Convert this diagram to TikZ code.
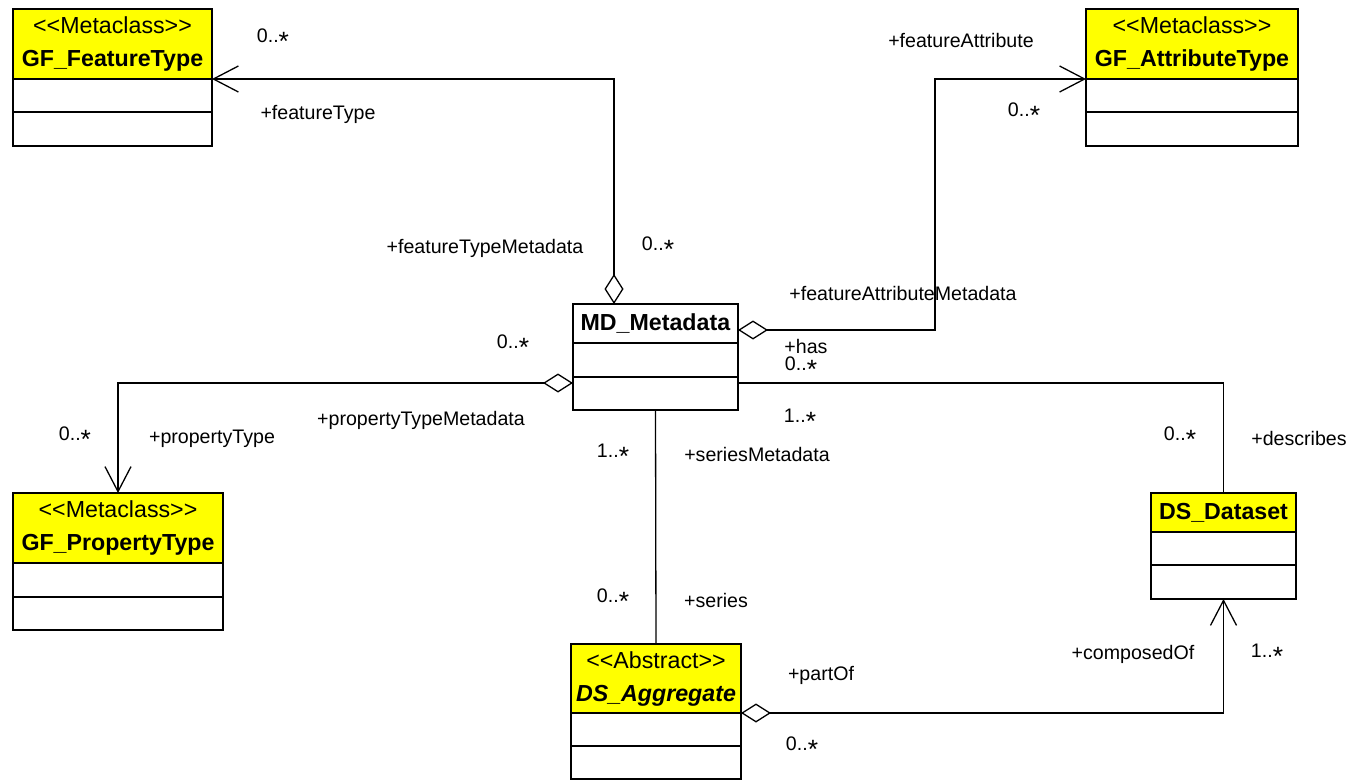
\documentclass[tikz,border=0pt]{standalone}
\usepackage{fontspec}
\usepackage{graphicx}
\setmainfont{Liberation Sans}
\usetikzlibrary{arrows.meta}
\definecolor{umlyellow}{RGB}{255,255,0}
\newcommand\mstar{\raisebox{-0.4em}{\scalebox{1.35}{*}}}
\newcommand\stereo[1]{<\kern0pt<#1>\kern0pt>}
\begin{document}
\begin{tikzpicture}[x=0.5pt,y=-0.5pt,
  hdr/.style={draw, line width=1pt, fill=umlyellow, inner sep=0pt, outer sep=0pt, align=center,
    font=\fontsize{11.6}{16.5}\selectfont},
  comp/.style={draw, line width=1pt, fill=white, inner sep=0pt, outer sep=0pt, anchor=north},
  conn/.style={line width=0.65pt},
  aggto/.style={{Diamond[open,length=15pt,width=9.5pt]}-{Straight Barb[length=12.5pt,width=13pt]}},
  lbl/.style={font=\fontsize{9.8}{11}\selectfont, inner sep=0pt}]
\fill[white] (0,0) rectangle (1350,781);
\useasboundingbox (0,0) rectangle (1350,781);

% GF_FeatureType
\node[hdr, minimum width=99.5pt, minimum height=35pt] (ftH) at (112.5,44)
  {\stereo{Metaclass}\\\textbf{GF\_FeatureType}};
\node[comp, minimum width=99.5pt, minimum height=16.5pt] (ftA) at (ftH.south) {};
\node[comp, minimum width=99.5pt, minimum height=17pt] (ftO) at (ftA.south) {};

% GF_AttributeType
\node[hdr, minimum width=106pt, minimum height=35pt] (atH) at (1192,44)
  {\stereo{Metaclass}\\\textbf{GF\_AttributeType}};
\node[comp, minimum width=106pt, minimum height=16.5pt] (atA) at (atH.south) {};
\node[comp, minimum width=106pt, minimum height=17pt] (atO) at (atA.south) {};

% GF_PropertyType
\node[hdr, minimum width=105pt, minimum height=35pt] (ptH) at (118,528)
  {\stereo{Metaclass}\\\textbf{GF\_PropertyType}};
\node[comp, minimum width=105pt, minimum height=17pt] (ptA) at (ptH.south) {};
\node[comp, minimum width=105pt, minimum height=16.5pt] (ptO) at (ptA.south) {};

% MD_Metadata
\node[hdr, fill=white, minimum width=82.5pt, minimum height=19.5pt] (mdH) at (655.5,323.5)
  {\textbf{MD\_Metadata}};
\node[comp, minimum width=82.5pt, minimum height=17pt] (mdA) at (mdH.south) {};
\node[comp, minimum width=82.5pt, minimum height=16.5pt] (mdO) at (mdA.south) {};

% DS_Dataset
\node[hdr, minimum width=72.5pt, minimum height=19.5pt] (dsH) at (1223.5,512.5)
  {\textbf{DS\_Dataset}};
\node[comp, minimum width=72.5pt, minimum height=16.5pt] (dsA) at (dsH.south) {};
\node[comp, minimum width=72.5pt, minimum height=17pt] (dsO) at (dsA.south) {};

% DS_Aggregate
\node[hdr, minimum width=85pt, minimum height=34.5pt] (agH) at (656,678.5)
  {\stereo{Abstract}\\\textbf{\itshape DS\_Aggregate}};
\node[comp, minimum width=85pt, minimum height=16.5pt] (agA) at (agH.south) {};
\node[comp, minimum width=85pt, minimum height=16.5pt] (agO) at (agA.south) {};

% bend coordinates
\coordinate (c1) at (614,79);
\coordinate (c2) at (935,330);
\coordinate (c3) at (118,383);
\coordinate (c4) at (1223.5,383);

% connectors
\draw[conn, aggto] (mdH.north -| c1) |- (ftH.south east);
\draw[conn, aggto] (c2 -| mdH.east) -- (c2) |- (atH.south west);
\draw[conn, aggto] (c3 -| mdO.west) -| (ptH.north);
\draw[conn] (c4 -| mdO.east) -| (dsH.north);
\draw[conn] (mdO.south) -- (agH.north);
\draw[conn, aggto] (agH.south east) -| (dsO.south);

% labels
\node[lbl] (l1) at (273,40) {0..\mstar};
\node[lbl] (l2) at (318,114) {+featureType};
\node[lbl] (l3) at (485,248) {+featureTypeMetadata};
\node[lbl] (l4) at (658,248) {0..\mstar};
\node[lbl] (l5) at (961,40) {+featureAttribute};
\node[lbl] (l6) at (1024,114) {0..\mstar};
\node[lbl] (l7) at (903,293) {+featureAttributeMetadata};
\node[lbl] (l8) at (806,346) {+has};
\node[lbl] (l9) at (801,368) {0..\mstar};
\node[lbl] (l10) at (513,346) {0..\mstar};
\node[lbl] (l11) at (421,420) {+propertyTypeMetadata};
\node[lbl] (l12) at (75,438) {0..\mstar};
\node[lbl] (l13) at (212,439) {+propertyType};
\node[lbl] (l14) at (800,420) {1..\mstar};
\node[lbl] (l15) at (613,455) {1..\mstar};
\node[lbl] (l16) at (757,454) {+seriesMetadata};
\node[lbl] (l17) at (613,600) {0..\mstar};
\node[lbl] (l18) at (716,600) {+series};
\node[lbl] (l19) at (1180,438) {0..\mstar};
\node[lbl] (l20) at (1299,438) {+describes};
\node[lbl] (l21) at (821,675) {+partOf};
\node[lbl] (l22) at (802,748) {0..\mstar};
\node[lbl] (l23) at (1133,654) {+composedOf};
\node[lbl] (l24) at (1267,655) {1..\mstar};
\end{tikzpicture}
\end{document}
